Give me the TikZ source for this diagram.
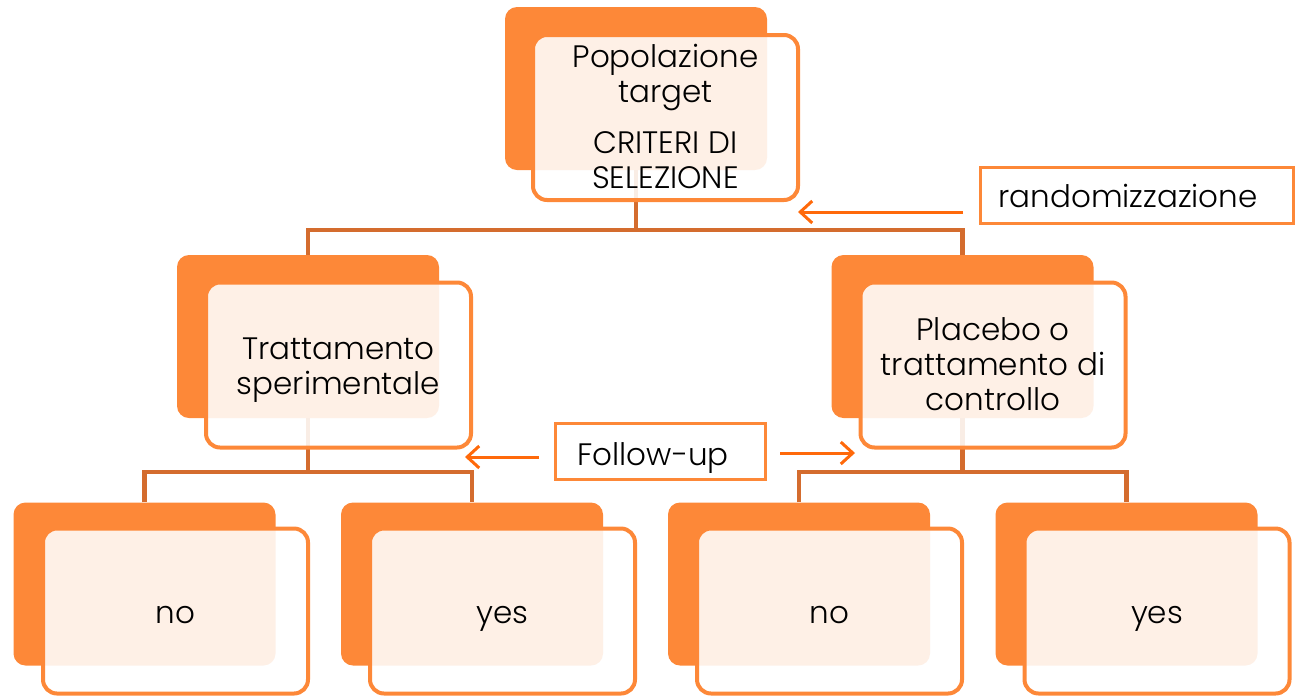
\documentclass[tikz,border=0pt]{standalone}
\usepackage{fontspec}
\setmainfont{Poppins}[UprightFont={* Light}]
\usetikzlibrary{arrows.meta}
\definecolor{backor}{RGB}{253,136,56}
\definecolor{connc}{RGB}{212,108,46}
\definecolor{arrc}{RGB}{255,105,10}
\newcommand{\boxlines}[2][-4pt]{\raisebox{#1}[\height][\depth]{\begin{tabular}{@{}c@{}}#2\end{tabular}}}
\tikzset{
  backbox/.style={fill=backor, rounded corners=12pt, inner sep=0pt, minimum width=262pt, minimum height=163pt},
  frontbox/.style={draw=backor, line width=4pt, fill=white, fill opacity=0.88, text opacity=1, rounded corners=14pt, inner sep=0pt, minimum width=265pt, minimum height=165pt, font=\fontsize{31}{35}\selectfont},
  connline/.style={draw=connc, line width=4.5pt},
  arrline/.style={draw=arrc, line width=3pt, -{Straight Barb[length=12pt,width=22pt]}},
  labelbox/.style={draw=backor, line width=3pt, fill=white, minimum height=56pt, inner ysep=0pt, align=left, font=\fontsize{31}{35}\selectfont},
}
\begin{document}
\begin{tikzpicture}[x=1pt,y=-1pt]
\useasboundingbox (0,0) rectangle (1297,697);
% back boxes
\node[backbox] (b0) at (636,88.5) {};
\node[backbox] (b1) at (308,336.5) {};
\node[backbox] (b2) at (962.5,336.5) {};
\node[backbox] (b3) at (144.5,584) {};
\node[backbox] (b4) at (472,584) {};
\node[backbox] (b5) at (799,584) {};
\node[backbox] (b6) at (1126.5,584) {};
% connectors
\coordinate (m0) at (636,230);
\coordinate (m1) at (308,472);
\coordinate (m2) at (962.5,472);
\draw[connline] (b0.south) -- (m0);
\draw[connline] (b1.north) |- (m0) -| (b2.north);
\draw[connline] (b1.south) -- (m1);
\draw[connline] (b3.north) |- (m1) -| (b4.north);
\draw[connline] (b2.south) -- (m2);
\draw[connline] (b5.north) |- (m2) -| (b6.north);
% front boxes
\node[frontbox] (f0) at (665.5,117.5) {\boxlines[-3.5pt]{Popolazione\\target\\[16pt]CRITERI DI\\SELEZIONE}};
\node[frontbox] (f1) at (338.5,365) {\boxlines[-4.5pt]{Trattamento\\sperimentale}};
\node[frontbox] (f2) at (993,365) {\boxlines[-3.5pt]{Placebo o\\trattamento di\\controllo}};
\node[frontbox] (f3) at (175.5,611) {\boxlines[-5pt]{no}};
\node[frontbox] (f4) at (502.5,611) {\boxlines[-5pt]{yes}};
\node[frontbox] (f5) at (829.5,611) {\boxlines[-5pt]{no}};
\node[frontbox] (f6) at (1157,611) {\boxlines[-5pt]{yes}};
% label boxes
\node[labelbox, text width=277pt, inner xsep=18pt] (r) at (1137,195.5) {randomizzazione};
\node[labelbox, text width=166pt, inner xsep=22pt, text height=31pt, text depth=4pt] (fu) at (660.5,451.5) {Follow-up};
% arrows
\coordinate (ra) at (798,212);
\coordinate (fl) at (465,457);
\coordinate (fr) at (855,453);
\draw[arrline] ([xshift=-16pt,yshift=-16.5pt]r.west) -- (ra);
\draw[arrline] ([xshift=-15pt,yshift=-5.5pt]fu.west) -- (fl);
\draw[arrline] ([xshift=13pt,yshift=-1.5pt]fu.east) -- (fr);
\end{tikzpicture}
\end{document}
